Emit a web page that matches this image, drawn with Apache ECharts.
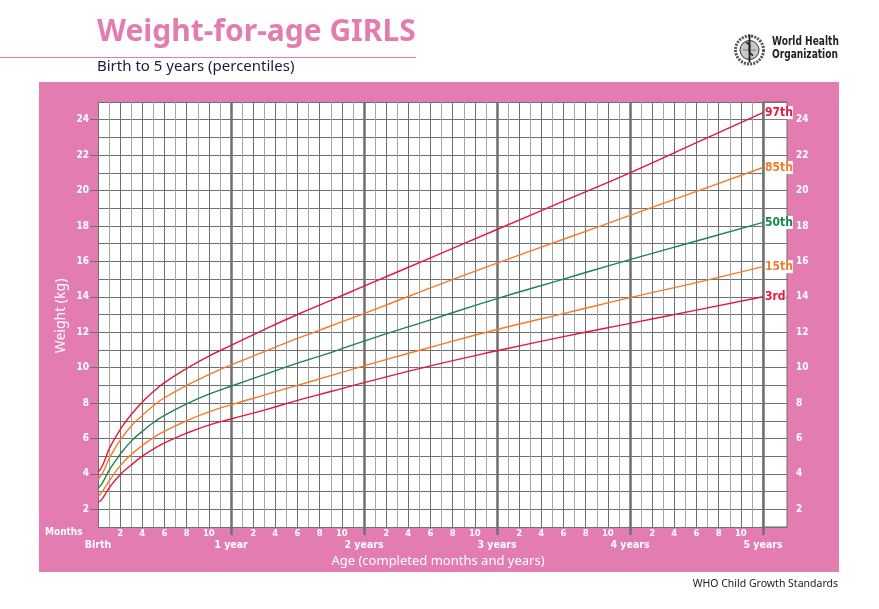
<!DOCTYPE html>
<html>
<head>
<meta charset="utf-8">
<script src="https://cdn.jsdelivr.net/npm/echarts@6/dist/echarts.min.js"></script>
<style>
  html, body { margin: 0; padding: 0; background: #fff; }
  #chart { width: 879px; height: 609px; }
</style>
</head>
<body>
<div id="chart"></div>
<script>
// WHO weight-for-age, girls, birth to 5 years (kg)
const months = [0, 0.25, 0.5, 0.75, 1, 2, 3, 4, 5, 6, 8, 10, 12, 15, 18, 21, 24, 30, 36, 42, 48, 54, 60];

const p3 = [2.4, 2.5, 2.7, 2.95, 3.2, 3.95, 4.5, 5.0, 5.4, 5.75, 6.3, 6.75, 7.1, 7.6, 8.15, 8.65, 9.15, 10.1, 10.95, 11.75, 12.5, 13.25, 14.0];
const p15 = [2.7, 2.9, 3.1, 3.35, 3.6, 4.45, 5.1, 5.6, 6.05, 6.4, 7.0, 7.5, 7.9, 8.45, 9.0, 9.55, 10.1, 11.15, 12.15, 13.05, 13.95, 14.8, 15.7];
const p50 = [3.2, 3.35, 3.6, 3.9, 4.2, 5.1, 5.85, 6.4, 6.9, 7.3, 7.95, 8.5, 8.95, 9.6, 10.25, 10.85, 11.5, 12.7, 13.9, 15.0, 16.1, 17.15, 18.2];
const p85 = [3.65, 3.9, 4.15, 4.5, 4.85, 5.9, 6.7, 7.3, 7.85, 8.3, 9.0, 9.6, 10.15, 10.9, 11.65, 12.35, 13.05, 14.5, 15.9, 17.25, 18.6, 19.95, 21.3];
const p97 = [4.1, 4.3, 4.6, 5.0, 5.4, 6.5, 7.35, 8.05, 8.65, 9.15, 9.95, 10.65, 11.25, 12.15, 13.0, 13.8, 14.6, 16.2, 17.8, 19.4, 21.0, 22.7, 24.4];

const percentiles = [
  { name: '3rd', values: p3, color: '#e5173f' },
  { name: '15th', values: p15, color: '#f47b2a' },
  { name: '50th', values: p50, color: '#19874a' },
  { name: '85th', values: p85, color: '#f47b2a' },
  { name: '97th', values: p97, color: '#e5173f' }
];

// even months inside each year, labelled 2..10 again every year
const monthTicks = [2, 4, 6, 8, 10, 14, 16, 18, 20, 22, 26, 28, 30, 32, 34,
  38, 40, 42, 44, 46, 50, 52, 54, 56, 58];
const yearTicks = [0, 12, 24, 36, 48, 60];
const yearLabels = ['Birth', '1 year', '2 years', '3 years', '4 years', '5 years'];
const kgTicks = [2, 4, 6, 8, 10, 12, 14, 16, 18, 20, 22, 24];

const PINK = '#e37db1';
const DARK = '#6f6f6f';
const LIGHT = '#a6a6a6';
const NARROW = '"Liberation Sans Narrow", "DejaVu Sans Condensed", "Roboto Condensed", sans-serif';

const chart = echarts.init(document.getElementById('chart'));

// axis carrying the even kg labels and their ticks
const kgLabelAxis = (gridIndex, position) => ({
  type: 'value',
  gridIndex: gridIndex,
  position: position,
  min: 1,
  max: 25,
  interval: 1,
  axisLine: { show: false },
  axisTick: {
    show: true,
    customValues: kgTicks,
    length: position === 'left' ? 8 : 3,
    lineStyle: { color: DARK, width: 1 }
  },
  axisLabel: {
    customValues: kgTicks,
    margin: 9,
    color: '#fff',
    fontFamily: NARROW,
    fontWeight: 'bold',
    fontSize: 10
  },
  splitLine: { show: false }
});

// axis carrying the 1 kg grid lines only
const kgGridAxis = (gridIndex, position) => ({
  type: 'value',
  gridIndex: gridIndex,
  position: position,
  min: 1,
  max: 25,
  interval: 1,
  axisLine: { show: false },
  axisTick: { show: false },
  axisLabel: { show: false },
  splitLine: { show: true, lineStyle: { color: DARK, width: 1 } }
});

const option = {
  animation: false,
  backgroundColor: '#fff',
  graphic: [
    // pink panel behind the grid
    { type: 'rect', z: -10, shape: { x: 39, y: 82, width: 800, height: 490 }, style: { fill: PINK } },
    // title block
    { type: 'text', left: 97, top: 17, style: { text: 'Weight-for-age GIRLS', fill: PINK, font: 'bold 30px "Noto Sans", sans-serif' } },
    { type: 'line', shape: { x1: 0, y1: 57.5, x2: 416, y2: 57.5 }, style: { stroke: PINK, lineWidth: 1 } },
    { type: 'text', left: 97, top: 59, style: { text: 'Birth to 5 years (percentiles)', fill: '#1c1c3a', font: '15px "Noto Sans", sans-serif' } },
    // WHO emblem (simplified)
    {
      type: 'group', left: 733, top: 32,
      children: [
        { type: 'circle', shape: { cx: 15.5, cy: 15.5, r: 14 }, style: { fill: 'none', stroke: '#555', lineWidth: 3, lineDash: [2, 1.2] } },
        { type: 'circle', shape: { cx: 15.5, cy: 15.5, r: 9.5 }, style: { fill: '#c8c8c8', stroke: '#333', lineWidth: 1 } },
        { type: 'line', shape: { x1: 9, y1: 15.5, x2: 22, y2: 15.5 }, style: { stroke: '#666', lineWidth: 0.8 } },
        { type: 'line', shape: { x1: 15.5, y1: 0, x2: 15.5, y2: 28 }, style: { stroke: '#222', lineWidth: 1.8 } },
        { type: 'bezierCurve', shape: { x1: 12, y1: 8, cpx1: 21, cpy1: 11, cpx2: 10, cpy2: 16, x2: 19, y2: 21 }, style: { stroke: '#222', lineWidth: 1.8, fill: 'none' } }
      ]
    },
    { type: 'text', left: 772, top: 35, scaleX: 0.84, style: { text: 'World Health\nOrganization', fill: '#222', lineHeight: 13, font: 'bold 12px ' + NARROW } },
    // axis captions
    { type: 'text', left: 45, top: 527, style: { text: 'Months', fill: '#fff', font: 'bold 10px ' + NARROW } },
    { type: 'text', x: 438, y: 561, style: { text: 'Age (completed months and years)', fill: '#fff', align: 'center', verticalAlign: 'middle', font: '13px "Noto Sans", sans-serif' } },
    { type: 'text', x: 61, y: 316, rotation: Math.PI / 2, style: { text: 'Weight (kg)', fill: '#fff', align: 'center', verticalAlign: 'middle', font: '14px "Noto Sans", sans-serif' } },
    // footer
    { type: 'text', right: 41, top: 579, style: { text: 'WHO Child Growth Standards', fill: '#222', font: '10.5px "Noto Sans", sans-serif' } }
  ],
  grid: [
    { left: 98, top: 102, width: 665, height: 425, show: true, backgroundColor: '#fff', borderWidth: 0 },
    { left: 763, top: 102, width: 24, height: 425, show: true, backgroundColor: '#fff', borderColor: DARK, borderWidth: 1 }
  ],
  xAxis: [
    {
      // month grid lines and month numbers
      type: 'value', gridIndex: 0, position: 'bottom',
      min: 0, max: 60, interval: 1,
      axisLine: { show: false },
      axisTick: { show: false },
      axisLabel: {
        customValues: monthTicks, margin: 2,
        formatter: v => String(v % 12),
        color: '#fff', fontFamily: NARROW, fontWeight: 'bold', fontSize: 9.5
      },
      splitLine: { show: true, lineStyle: { color: [DARK, LIGHT], width: 1 } }
    },
    {
      // year lines, year ticks and year names
      type: 'value', gridIndex: 0, position: 'bottom',
      min: 0, max: 60, interval: 12,
      axisLine: { show: false },
      axisTick: {
        show: true, customValues: [12, 24, 36, 48, 60], length: 8,
        lineStyle: { color: DARK, width: 2.5 }
      },
      axisLabel: {
        customValues: yearTicks, margin: 13,
        formatter: v => yearLabels[yearTicks.indexOf(v)],
        color: '#fff', fontFamily: NARROW, fontWeight: 'bold', fontSize: 10.5
      },
      splitLine: { show: true, lineStyle: { color: DARK, width: 2.5 } }
    },
    { type: 'value', gridIndex: 1, min: 0, max: 1, show: false }
  ],
  yAxis: [
    kgLabelAxis(0, 'left'),
    kgGridAxis(0, 'right'),
    kgLabelAxis(1, 'right'),
    kgGridAxis(1, 'left')
  ],
  series: percentiles.map(p => ({
    name: p.name,
    type: 'line',
    xAxisIndex: 0,
    yAxisIndex: 0,
    data: months.map((m, i) => [m, p.values[i]]),
    showSymbol: false,
    smooth: 0.5,
    lineStyle: { color: p.color, width: 1.4 },
    itemStyle: { color: p.color },
    z: 5,
    endLabel: {
      show: true,
      formatter: p.name,
      distance: 2,
      color: p.color,
      fontFamily: NARROW,
      fontWeight: 'bold',
      fontSize: 12,
      backgroundColor: '#fff',
      padding: [1, 0, 0, 0]
    }
  }))
};

chart.setOption(option);
</script>
</body>
</html>
